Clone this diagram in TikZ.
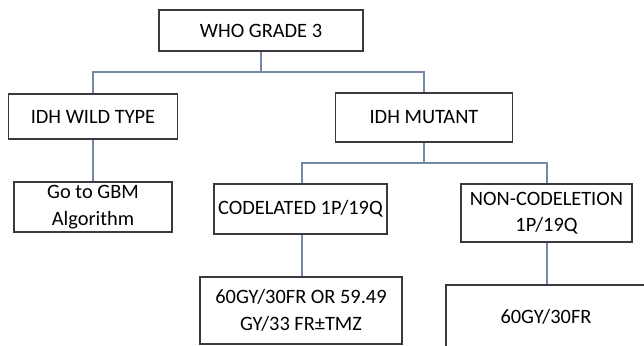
\documentclass[tikz,border=0pt]{standalone}
\usepackage{fontspec}
\setmainfont{Carlito}
\definecolor{boxgray}{HTML}{3A3A3A}
\definecolor{linkblue}{HTML}{7688A8}

\begin{document}
\begin{tikzpicture}[x=0.5pt,y=-0.5pt,
    box/.style={draw=boxgray,line width=0.65pt,align=center,inner sep=0pt,
        font=\fontsize{10.2}{13.2}\selectfont},
    link/.style={draw=linkblue,line width=0.55pt}]
                \useasboundingbox (0,0) rectangle (644,345);
                \clip (0,0) rectangle (644,345);

                % Boxes
                \node[box,minimum width=102pt,minimum height=20.5pt] (who) at (261,30.5) {WHO GRADE 3};
                \node[box,minimum width=84.5pt,minimum height=22.5pt] (wild) at (93,116.5) {IDH WILD TYPE};
                \node[box,minimum width=88.75pt,minimum height=24.5pt] (mut) at (424,117.5) {IDH MUTANT};
                \node[box,minimum width=79pt,minimum height=25pt] (gbm) at (93,207) {Go to GBM\\Algorithm};
                \node[box,minimum width=86.5pt,minimum height=25pt] (codel) at (300.5,209) {CODELATED 1P/19Q};
                \node[box,minimum width=85.5pt,minimum height=29pt] (noncodel) at (546.5,213) {NON-CODELETION\\1P/19Q};
                \node[box,minimum width=101pt,minimum height=33.5pt] (rtcodel) at (301,310.5) {60GY/30FR OR 59.49\\GY/33 FR±TMZ};
                \node[box,minimum width=100pt,minimum height=32pt] (rtnon) at (546,317) {60GY/30FR};

                % Connectors
                \coordinate (top) at (261,72);
                \coordinate (mid) at (424,163);
                \draw[link] (who) -- (top);
                \draw[link] (wild) |- (top) -| (mut);
                \draw[link] (wild) -- (gbm);
                \draw[link] (mut) -- (mid);
                \draw[link] (codel.north -| 302,0) |- (mid) -| (noncodel.north -| 547,0);
                \draw[link] (codel.south -| 302,0) -- (rtcodel.north -| 302,0);
                \draw[link] (noncodel.south -| 547,0) -- (rtnon.north -| 547,0);
            \end{tikzpicture}
\end{document}
